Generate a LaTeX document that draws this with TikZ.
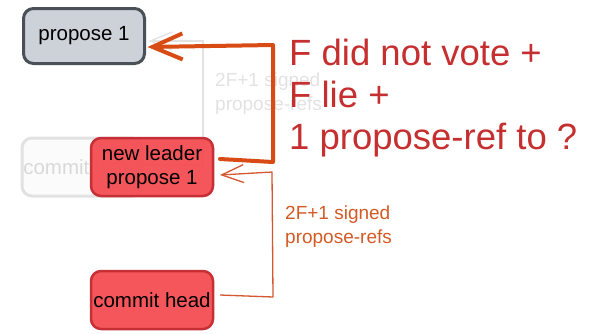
\documentclass[tikz,border=0pt]{standalone}
\usepackage{fontspec}
\setmainfont{Liberation Sans}
\usetikzlibrary{arrows.meta}
\definecolor{greyfill}{HTML}{CDD1D8}
\definecolor{greydraw}{HTML}{4A4F58}
\definecolor{redfill}{HTML}{F44F54}
\definecolor{reddraw}{HTML}{C62F36}
\definecolor{thickcol}{HTML}{D94B14}
\definecolor{thincol}{HTML}{D4572F}
\definecolor{labelcol}{HTML}{D35A24}
\definecolor{bigcol}{HTML}{C62F2F}
\definecolor{fadecol}{HTML}{E2E2E2}
\tikzset{
  boxtext/.style={font=\fontsize{20.5}{24}\selectfont, align=center, inner sep=0pt, outer sep=0pt},
  greybox/.style={boxtext, rounded corners=10pt, line width=3pt, draw=greydraw, fill=greyfill, minimum width=121pt, minimum height=55pt},
  redbox/.style={boxtext, rounded corners=10pt, line width=2.5pt, draw=reddraw, fill=redfill, fill opacity=0.96, text opacity=1, minimum width=122pt, minimum height=58pt},
  fadebox/.style={boxtext, rounded corners=10pt, line width=3pt, draw=fadecol, fill=gray!3, text=gray!30, minimum width=120pt, minimum height=58pt},
  thickarrow/.style={draw=thickcol, line width=4pt, line join=round, line cap=round, -{Straight Barb[length=30pt,width=26pt,line width=4pt]}},
  thinarrow/.style={draw=thincol, line width=1.3pt, line join=round, -{Straight Barb[length=22pt,width=18pt,line width=1.3pt]}},
  fadearrow/.style={draw=fadecol, line width=1.3pt, -{Straight Barb[length=22pt,width=18pt]}},
  bigtext/.style={font=\fontsize{36.5}{42}\selectfont, text=bigcol, inner sep=0pt, anchor=base west},
  lbl/.style={font=\fontsize{19}{23}\selectfont, text=labelcol, inner sep=0pt, anchor=base west},
  fadelbl/.style={font=\fontsize{19}{23}\selectfont, text=fadecol, inner sep=0pt, anchor=base west},
}
\begin{document}
\begin{tikzpicture}[x=1pt,y=-1pt]
\useasboundingbox (0,0) rectangle (593,333);
\node[greybox] (p1) at (84,36) {propose 1};
% faded previous state (underneath)
\node[fadebox] (fch) at (82,167) {commit head};
\coordinate (fa) at (203,165);
\coordinate (fb) at (203,41);
\draw[fadearrow] ([xshift=4pt,yshift=2pt]fch.east) -- (fa) -- (fb) -- ([xshift=4pt,yshift=-5pt]p1.east);
\node[fadelbl] (fl1) at (215,86) {2F+1 signed};
\node[fadelbl] (fl2) at (215,110) {propose-refs};
% red boxes
\node[redbox] (nl) at (152,167) {new leader\\propose 1};
\node[redbox] (ch) at (152,300) {commit head};
% thin connector commit head -> new leader
\coordinate (t1) at (273,297);
\coordinate (t2) at (272,172);
\draw[thinarrow] ([xshift=7pt,yshift=5pt]ch.east) -- (t1) -- (t2) -- ([xshift=7pt,yshift=-8pt]nl.east);
\node[lbl] (l1) at (285,219) {2F+1 signed};
\node[lbl] (l2) at (285,243) {propose-refs};
% thick connector new leader -> propose 1
\coordinate (k1) at (273,162);
\coordinate (k2) at (273,45);
\draw[thickarrow] ([xshift=7pt,yshift=8pt]nl.east) -- (k1) -- (k2) -- ([xshift=3pt,yshift=-11pt]p1.east);
% big text
\node[bigtext] (b1) at (289,65) {F did not vote +};
\node[bigtext] (b2) at (289,107) {F lie +};
\node[bigtext] (b3) at (289,149) {1 propose-ref to ?};
\end{tikzpicture}
\end{document}
